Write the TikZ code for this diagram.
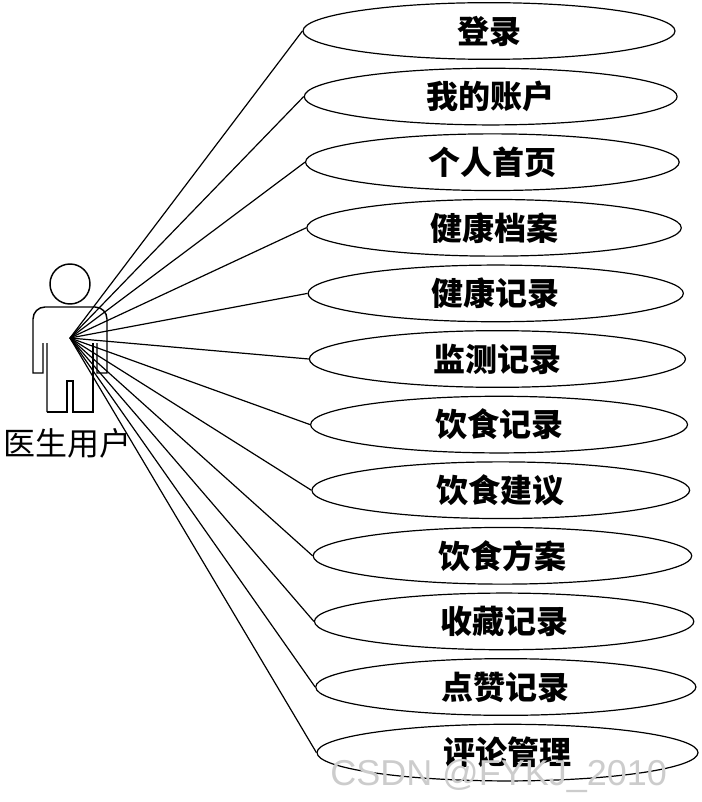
\documentclass[tikz,border=0pt]{standalone}
\usepackage{fontspec}
\usetikzlibrary{shapes.geometric}
\newfontfamily\cjk{Noto Sans CJK SC}
\setmainfont{Liberation Sans}
\begin{document}
\begin{tikzpicture}[x=0.75pt,y=-0.75pt,
  uc/.style={draw,line width=0.9pt,ellipse,minimum height=42.5pt,font=\cjk\bfseries\fontsize{24}{24}\selectfont,inner sep=0pt},
  ln/.style={line width=0.9pt},
  act/.style={line width=1.1pt}]
\useasboundingbox (0,0) rectangle (702,802);
\foreach \t [count=\i] in {登录,我的账户,个人首页,健康档案,健康记录,监测记录,饮食记录,饮食建议,饮食方案,收藏记录,点赞记录,评论管理}{
  \pgfmathsetmacro\L{303+14*(\i-1)/11}
  \pgfmathsetmacro\R{675+23*(\i-1)/11}
  \pgfmathsetmacro\Y{31+65.6*(\i-1)}
  \pgfmathsetmacro\W{(\R-\L)*0.75}
  \node[uc,minimum width=\W pt] (u\i) at ({(\L+\R)/2},\Y) {\t};
}
\coordinate (h) at (70,338);
\foreach \i in {1,...,12} \draw[ln] (h) -- (u\i.west);
% actor
\node[draw,act,circle,minimum size=30pt,inner sep=0pt] (head) at (70,284) {};
\draw[act] (47,412) -- (47,343) (43,343) -- (43,373) -- (33,373) -- (33,319) arc[start angle=180,end angle=270,radius=12] -- (95,307) arc[start angle=270,end angle=360,radius=12] -- (107,373) -- (97,373) -- (97,343);
\draw[act] (93,343) -- (93,412) -- (73,412) -- (73,381) -- (67,381) -- (67,412) -- (47,412);
\node[font=\cjk\fontsize{24}{24}\selectfont,anchor=west,inner sep=0pt] (actor) at (3,443) {医生用户};
\node[font=\fontsize{27}{27}\selectfont,text=black!20,anchor=west,inner sep=0pt] (wm) at (330,776) {CSDN @FYKJ\_2010};
\end{tikzpicture}
\end{document}
